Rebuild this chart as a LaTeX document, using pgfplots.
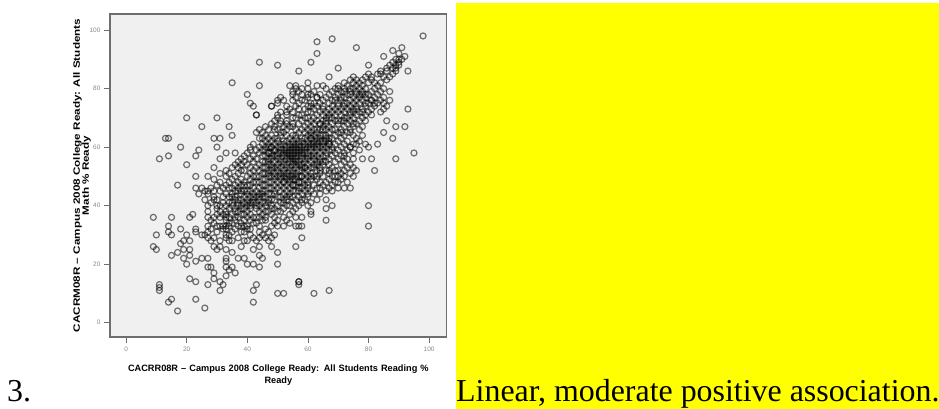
\documentclass[border=0pt]{standalone}
\usepackage{pgfplots}
\pgfplotsset{compat=1.18}
\usepackage{fontspec}
\setmainfont{Liberation Sans}
\newfontfamily\serif{Liberation Serif}
\definecolor{frame}{HTML}{6E6E6E}
\definecolor{panel}{HTML}{F0F0F0}
\definecolor{ticktxt}{HTML}{8A8A8A}
\definecolor{yy}{RGB}{255,255,0}
\begin{document}
\begin{tikzpicture}[x=1pt,y=1pt]
\path[use as bounding box] (0,0) rectangle (939,409);
\fill[yy] (456,0) rectangle (939,406);
\node[anchor=base west,inner sep=0pt,font=\serif\fontsize{31.9}{33}\selectfont] at (456,7) {Linear, moderate positive association.};
\node[anchor=base west,inner sep=0pt,font=\serif\fontsize{31.9}{33}\selectfont] at (7,7) {3.};
\begin{axis}[
  at={(110pt,72pt)},anchor=south west,scale only axis,width=336.7pt,height=323pt,
  xmin=-5.3,xmax=105.8,ymin=-4.9,ymax=105.5,
  axis background/.style={fill=panel},
  axis line style={frame,line width=1.5pt},
  xtick pos=bottom,ytick pos=left,
  xtick={0,20,40,60,80,100},ytick={0,20,40,60,80,100},
  tick style={frame,line width=0.8pt},
  tick align=outside,major tick length=6pt,
  tick label style={font=\fontsize{6.5}{7}\selectfont,text=ticktxt},
  /pgf/number format/assume math mode=true,
  xlabel={CACRR08R -- Campus 2008 College Ready: All Students Reading \%\\Ready},
  ylabel={\scalebox{1.27}[1]{\begin{tabular}{@{}c@{}}CACRM08R -- Campus 2008 College Ready: All Students\\[-1pt]Math \% Ready\end{tabular}}},
  xlabel style={font=\bfseries\fontsize{9.2}{12}\selectfont,align=center,text width=330pt,yshift=-7pt},
  ylabel style={font=\bfseries\fontsize{9.2}{10}\selectfont,align=center,yshift=-9pt},
  clip=false,
]
\addplot[only marks,mark=o,mark size=3pt,mark options={draw=black,draw opacity=0.55,line width=1.2pt,fill=none}] coordinates {
(98,98)(68,97)(63,96)(63,92)(76,94)(61,89)(50,88)(44,89)(57,86)(70,87)(35,82)(44,81)(67,84)(40,78)(54,81)(56,81)(60,82)(60,80)(60,78)(63,81)(65,81)(80,88)(80,85)(85,91)(88,93)(91,94)(90,92)(92,91)(93,86)(93,73)(95,58)(89,56)(92,67)(89,67)(88,63)(86,69)(85,65)(83,61)(80,60)(82,52)(81,56)(78,56)
(20,70)(25,67)(30,70)(34,67)(35,64)(29,63)(31,63)(13,63)(14,63)(18,60)(14,57)(11,56)(24,59)(23,57)(20,54)(30,60)(29,53)(23,50)(27,50)(17,47)(33,58)(36,58)(31,56)(41,60)(41,75)(42,74)(43,71)(43,71)(48,74)(50,76)(44,66)(23,46)(25,46)(27,45)
(9,36)(15,36)(21,36)(22,37)(14,33)(14,31)(15,30)(10,30)(9,26)(10,25)(18,32)(20,30)(19,28)(21,28)(18,27)(19,25)(21,25)(17,24)(15,23)(19,22)(21,23)(20,20)(23,21)(25,22)(27,22)(23,32)(23,31)(25,30)(27,29)(29,29)(30,25)(29,26)(31,26)(33,25)(35,24)(37,22)(39,22)(38,26)(39,28)(27,19)(28,19)(29,17)(29,15)(31,14)(27,13)(32,13)(31,11)(21,15)(23,14)(11,13)(11,12)(11,11)(15,8)(14,7)(23,8)(17,4)(26,5)(33,22)(33,21)(33,19)(35,19)(33,16)(36,17)(34,18)(40,20)(42,20)(44,19)(44,23)(45,22)(44,26)(42,25)(48,26)(50,24)(50,20)(43,13)(42,11)(42,7)(50,10)(52,10)(57,14)(57,13)(57,14)(62,10)(67,11)(56,26)(58,29)(56,33)(57,33)(58,33)(66,35)(80,33)(80,40)(66,39)(68,40)(66,42)(61,41)(61,38)(56,36)(58,36)(50,33)(52,33)
(28,28)(31,28)(34,28)(35,28)(40,28)(43,28)(47,28)(33,29)(37,29)(42,29)(44,29)(46,29)(48,29)(26,30)(33,30)(34,30)(41,30)(45,30)(49,30)(27,31)(30,31)(35,31)(38,31)(39,31)(44,31)(47,31)(28,32)(32,32)(33,32)(36,32)(40,32)(41,32)(46,32)
(27,33)(30,33)(31,33)(32,33)(33,33)(34,33)(37,33)(38,33)(39,33)(40,33)(44,33)(48,33)(29,34)(34,34)(38,34)(42,34)(43,34)(49,34)(54,34)(28,35)(33,35)(36,35)(39,35)(41,35)(45,35)(46,35)(50,35)(53,35)
(27,36)(29,36)(34,36)(37,36)(42,36)(43,36)(44,36)(49,36)(52,36)(30,37)(32,37)(35,37)(38,37)(41,37)(45,37)(48,37)(54,37)(61,37)(27,38)(33,38)(36,38)(37,38)(40,38)(44,38)(46,38)(47,38)(51,38)(55,38)
(30,39)(34,39)(38,39)(39,39)(43,39)(45,39)(49,39)(52,39)(56,39)(27,40)(31,40)(33,40)(38,40)(40,40)(41,40)(44,40)(48,40)(50,40)(53,40)(54,40)(57,40)(60,40)(28,41)(35,41)(37,41)(39,41)(43,41)(45,41)(46,41)(47,41)(51,41)(55,41)(58,41)
(26,42)(29,42)(30,42)(36,42)(38,42)(42,42)(44,42)(48,42)(49,42)(52,42)(56,42)(59,42)(63,42)(32,43)(34,43)(39,43)(41,43)(43,43)(45,43)(46,43)(50,43)(51,43)(53,43)(55,43)(57,43)(60,43)
(24,44)(27,44)(33,44)(35,44)(38,44)(40,44)(42,44)(44,44)(47,44)(48,44)(52,44)(54,44)(58,44)(62,44)(64,44)(26,45)(29,45)(31,45)(36,45)(39,45)(41,45)(43,45)(45,45)(46,45)(49,45)(51,45)(53,45)(55,45)(56,45)(59,45)(61,45)(66,45)(68,45)
(28,46)(32,46)(35,46)(37,46)(42,46)(44,46)(47,46)(48,46)(50,46)(52,46)(54,46)(57,46)(58,46)(60,46)(63,46)(67,46)(70,46)(72,46)(74,46)(30,47)(33,47)(38,47)(40,47)(41,47)(45,47)(46,47)(49,47)(51,47)(53,47)(55,47)(56,47)(59,47)(62,47)(65,47)(68,47)
(31,48)(34,48)(37,48)(39,48)(42,48)(43,48)(44,48)(47,48)(48,48)(50,48)(52,48)(54,48)(57,48)(58,48)(60,48)(64,48)(66,48)(69,48)(73,48)(29,49)(35,49)(38,49)(41,49)(45,49)(46,49)(49,49)(51,49)(53,49)(55,49)(56,49)(59,49)(61,49)(63,49)(67,49)(71,49)
(33,50)(36,50)(40,50)(42,50)(43,50)(44,50)(47,50)(48,50)(50,50)(52,50)(54,50)(57,50)(58,50)(60,50)(62,50)(65,50)(68,50)(70,50)(72,50)(75,50)(31,51)(34,51)(37,51)(41,51)(45,51)(46,51)(49,51)(51,51)(52,51)(53,51)(55,51)(56,51)(59,51)(61,51)(64,51)(67,51)(71,51)(74,51)
(33,52)(38,52)(39,52)(42,52)(44,52)(47,52)(48,52)(50,52)(52,52)(54,52)(55,52)(57,52)(58,52)(60,52)(63,52)(66,52)(69,52)(76,52)(35,53)(37,53)(41,53)(43,53)(45,53)(46,53)(49,53)(51,53)(53,53)(54,53)(56,53)(58,53)(59,53)(61,53)(64,53)(68,53)(73,53)
(36,54)(38,54)(40,54)(44,54)(47,54)(48,54)(50,54)(52,54)(53,54)(55,54)(56,54)(57,54)(58,54)(60,54)(62,54)(65,54)(67,54)(71,54)(74,54)(37,55)(39,55)(42,55)(45,55)(46,55)(49,55)(51,55)(52,55)(54,55)(55,55)(56,55)(57,55)(59,55)(61,55)(63,55)(66,55)(69,55)(72,55)
(38,56)(41,56)(43,56)(47,56)(48,56)(50,56)(51,56)(53,56)(54,56)(55,56)(56,56)(58,56)(59,56)(60,56)(62,56)(64,56)(70,56)(73,56)(39,57)(42,57)(45,57)(46,57)(49,57)(50,57)(52,57)(53,57)(54,57)(55,57)(56,57)(57,57)(58,57)(60,57)(61,57)(63,57)(65,57)(68,57)(71,57)
(40,58)(44,58)(47,58)(48,58)(50,58)(52,58)(53,58)(54,58)(55,58)(56,58)(57,58)(58,58)(59,58)(60,58)(62,58)(64,58)(66,58)(69,58)(72,58)(75,58)(41,59)(43,59)(45,59)(49,59)(51,59)(52,59)(53,59)(54,59)(55,59)(56,59)(57,59)(58,59)(59,59)(61,59)(63,59)(65,59)(67,59)(70,59)(73,59)
(44,60)(46,60)(48,60)(50,60)(53,60)(54,60)(55,60)(56,60)(57,60)(58,60)(59,60)(60,60)(62,60)(64,60)(66,60)(68,60)(71,60)(74,60)(42,61)(45,61)(47,61)(51,61)(54,61)(55,61)(56,61)(57,61)(59,61)(60,61)(61,61)(63,61)(65,61)(67,61)(69,61)(72,61)(75,61)
(46,62)(48,62)(52,62)(53,62)(55,62)(57,62)(58,62)(60,62)(62,62)(63,62)(65,62)(67,62)(70,62)(73,62)(77,62)(44,63)(45,63)(47,63)(50,63)(54,63)(56,63)(58,63)(59,63)(61,63)(64,63)(66,63)(68,63)(71,63)(76,63)
(48,64)(51,64)(55,64)(56,64)(60,64)(62,64)(64,64)(69,64)(72,64)(75,64)(78,64)(43,65)(45,65)(52,65)(57,65)(59,65)(61,65)(63,65)(67,65)(70,65)(73,65)(47,66)(50,66)(56,66)(58,66)(62,66)(64,66)(68,66)(71,66)(74,66)(77,66)
(46,67)(49,67)(52,67)(55,67)(59,67)(61,67)(65,67)(67,67)(72,67)(75,67)(78,67)(53,68)(55,68)(60,68)(62,68)(64,68)(66,68)(70,68)(73,68)(76,68)(49,69)(51,69)(58,69)(63,69)(65,69)(69,69)(71,69)(74,69)(77,69)
(50,70)(56,70)(59,70)(62,70)(66,70)(68,70)(72,70)(75,70)(78,70)(50,71)(53,71)(57,71)(63,71)(65,71)(67,71)(71,71)(76,71)(79,71)(51,72)(55,72)(61,72)(64,72)(66,72)(70,72)(72,72)(74,72)(77,72)(80,72)(84,72)
(54,73)(59,73)(62,73)(65,73)(69,73)(73,73)(75,73)(78,73)(81,73)(85,73)(48,74)(53,74)(56,74)(60,74)(63,74)(68,74)(72,74)(76,74)(79,74)(82,74)(86,74)(50,75)(57,75)(61,75)(64,75)(67,75)(70,75)(73,75)(77,75)(80,75)(83,75)(85,75)
(52,76)(55,76)(58,76)(65,76)(68,76)(71,76)(74,76)(78,76)(81,76)(84,76)(87,76)(51,77)(56,77)(60,77)(63,77)(66,77)(69,77)(75,77)(79,77)(82,77)(85,77)(55,78)(58,78)(61,78)(64,78)(67,78)(70,78)(73,78)(77,78)(80,78)(83,78)
(55,79)(57,79)(62,79)(68,79)(71,79)(74,79)(76,79)(81,79)(84,79)(87,79)(56,80)(58,80)(66,80)(69,80)(72,80)(75,80)(79,80)(82,80)(85,80)
(70,81)(73,81)(76,81)(78,81)(83,81)(72,82)(75,82)(77,82)(80,82)(82,82)(84,82)(74,83)(76,83)(78,83)(81,83)(86,83)(75,84)(79,84)(81,84)(85,84)(87,84)
(83,85)(84,85)(88,85)(84,86)(86,86)(89,86)(86,87)(88,87)(89,87)(87,88)(89,88)(90,88)(88,89)(90,89)(89,90)(90,90)(91,90)
(61,50)(63,50)(64,52)(62,53)(65,55)(63,54)(66,57)(62,57)(64,55)(61,60)(63,60)(65,60)(67,61)(62,61)(64,62)(66,62)(61,63)(63,63)(65,64)(61,64)(66,64)(63,66)(60,66)(65,66)(67,63)(68,59)(67,56)(49,50)(51,50)(47,51)(48,53)(50,53)(47,55)(48,57)(47,58)(46,59)(48,60)(49,61)(50,62)(49,59)(47,60)(51,58)(51,60)(52,61)(53,64)
(64,68)(66,69)(68,68)(70,69)(72,69)(67,70)(69,71)(73,70)(74,71)(75,72)(71,73)(67,73)(68,72)(76,73)(70,74)(74,74)(75,75)(72,75)(69,76)(72,77)(76,76)(77,77)(71,77)(74,78)(76,78)(78,78)(72,79)(78,79)(70,80)(74,80)(77,80)(79,75)(82,75)(81,71)(79,69)(75,68)(78,72)(81,76)(79,78)(71,65)(74,65)(69,66)(66,66)
(35,40)(37,40)(36,39)(36,43)(37,42)(35,43)(40,41)(41,41)(40,42)(42,41)(38,45)(40,45)(42,43)(44,43)(37,45)(34,41)(32,41)(31,38)(33,37)(36,36)(39,37)(43,40)(46,40)(47,42)(45,44)(49,44)(39,47)(36,47)(34,46)(30,40)(29,43)(40,36)(41,39)(46,36)(48,39)(50,38)(52,41)(33,36)(35,34)(31,36)
(55,50)(56,50)(53,50)(54,49)(52,48)(55,47)(57,45)(54,43)(58,42)(53,42)(60,47)(57,48)(58,50)(59,53)(60,44)(64,46)(69,50)(72,52)(75,53)(70,48)(67,52)(70,52)(72,57)(75,56)(74,60)(77,59)(79,61)(76,61)
(49,66)(51,65)(53,66)(54,67)(51,68)(48,68)(46,64)(49,63)(53,69)(55,70)(53,72)(57,73)(58,71)(60,70)(60,72)(61,69)(57,68)(62,75)(59,76)(61,74)(63,77)(65,74)
};
\end{axis}
\end{tikzpicture}
\end{document}
